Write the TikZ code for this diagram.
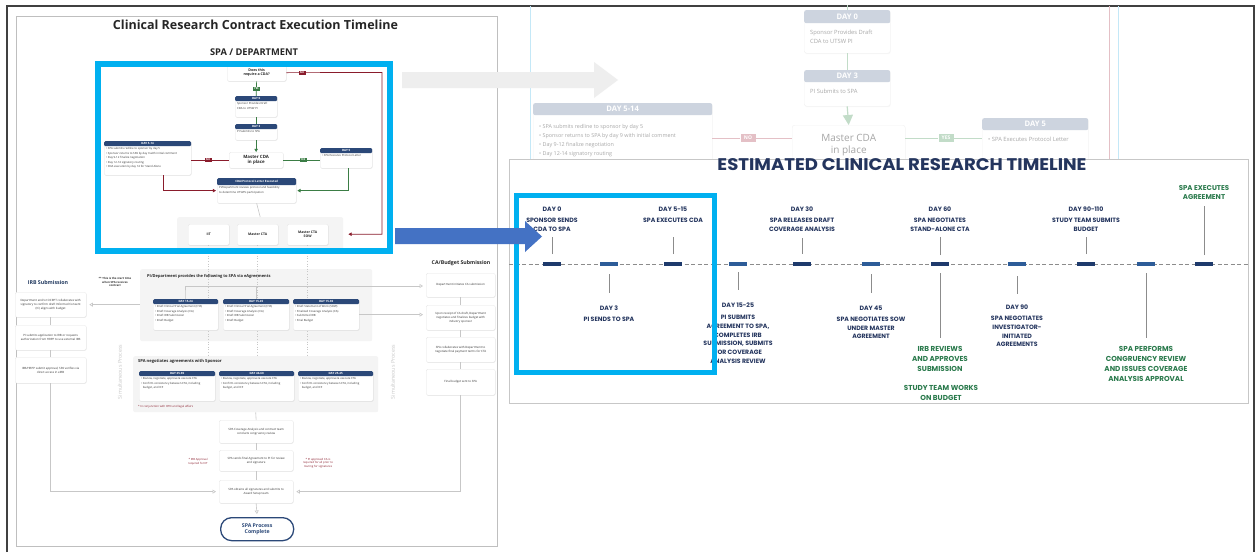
\documentclass[tikz,border=0pt]{standalone}
\usepackage{fontspec}
\usepackage{graphicx}
\setmainfont{Open Sans}
\newfontfamily\osans{Open Sans}
\newfontfamily\popp{Poppins}
\usetikzlibrary{arrows.meta,shadows,calc}

\definecolor{navy}{HTML}{2B4878}
\definecolor{tnavy}{HTML}{24355E}
\definecolor{tgreen}{HTML}{2A7A4C}
\definecolor{cyanframe}{HTML}{00B0F0}
\definecolor{barA}{HTML}{1E3A6C}
\definecolor{barB}{HTML}{2D5C98}
\definecolor{darkred}{HTML}{8A1C2C}
\definecolor{flowgreen}{HTML}{3B7D45}
\definecolor{panelgray}{HTML}{F4F4F4}
\definecolor{arrowblue}{HTML}{4472C4}
\definecolor{arrowgray}{HTML}{EEEEEE}
\definecolor{fadehdr}{HTML}{CDD4DF}
\definecolor{fadetxt}{HTML}{A8A8A8}
\definecolor{fadegreen}{HTML}{C2DCC8}
\definecolor{fadered}{HTML}{E4C0C6}
\definecolor{fadeblue}{HTML}{C4E8F7}

% card with a navy header band: name, x, y, width, height, header height, header, body
\newcommand\hcard[8]{%
  \node[card, minimum width=#4pt, minimum height=#5pt, anchor=north west] (#1) at (#2,#3) {};
  \node[hdr, minimum width=#4pt, minimum height=#6pt, anchor=north] (#1h) at (#1.north) {#7};
  \node[ctxt, anchor=north west] (#1t) at ([xshift=2pt,yshift=-#6pt-1.5pt]#1.north west) {#8};
}
% pale card of the enlarged view: name, x, y, width, height, header height, header
\newcommand\fcard[7]{%
  \node[fadecard, minimum width=#4pt, minimum height=#5pt, anchor=north west] (#1) at (#2,#3) {};
  \node[fadehdrbox, minimum width=#4pt, minimum height=#6pt, anchor=north] (#1h) at (#1.north) {#7};
}

\begin{document}
\begin{tikzpicture}[x=1pt, y=-1pt,
  card/.style={draw=black!10, line width=0.3pt, fill=white, rounded corners=1.5pt, inner sep=0pt,
    drop shadow={opacity=0.15, shadow xshift=0.4pt, shadow yshift=-0.7pt}},
  hdr/.style={fill=navy, rounded corners=1.2pt, inner sep=0pt, text=white,
    font=\osans\bfseries\fontsize{2.9}{3.2}\selectfont},
  ctxt/.style={inner sep=0pt, align=left, text=black!80, font=\osans\fontsize{2.8}{4.4}\selectfont},
  pcard/.style={card, anchor=north west, align=center, text=black!80, font=\osans\fontsize{2.9}{4.1}\selectfont},
  boldcard/.style={card, anchor=north west, align=center, text=black!85, font=\osans\bfseries\fontsize{3.4}{4.2}\selectfont},
  tagred/.style={fill=darkred, text=white, inner sep=0.5pt, minimum width=7pt, minimum height=4pt,
    font=\osans\bfseries\fontsize{2.6}{3}\selectfont},
  taggreen/.style={tagred, fill=flowgreen},
  redln/.style={draw=darkred, line width=0.7pt},
  grnln/.style={draw=flowgreen, line width=0.7pt},
  headtip/.style={-{Triangle[length=3.2pt,width=3.4pt]}},
  grayln/.style={draw=black!22, line width=0.6pt},
  grayarr/.style={grayln, -{Triangle[open, length=3.5pt, width=4pt]}, shorten >=3pt},
  dotln/.style={draw=black!22, line width=0.6pt, dotted},
  panel/.style={fill=panelgray, inner sep=0pt, anchor=north west, rounded corners=2pt},
  rednote/.style={inner sep=0pt, align=center, text=darkred, font=\osans\fontsize{2.8}{3.6}\selectfont},
  simul/.style={rotate=90, text=black!22, font=\osans\fontsize{5.3}{6}\selectfont, inner sep=0pt},
  fadecard/.style={draw=black!5, fill=white, rounded corners=2.5pt, inner sep=0pt,
    drop shadow={opacity=0.06, shadow xshift=0.5pt, shadow yshift=-1pt}},
  fadehdrbox/.style={fill=fadehdr, rounded corners=2pt, inner sep=0pt, text=white,
    font=\osans\bfseries\fontsize{7.6}{8}\selectfont},
  fadetext/.style={inner sep=0pt, align=left, text=fadetxt, font=\osans\fontsize{5.8}{9.3}\selectfont},
  fadetag/.style={inner sep=1pt, minimum width=15pt, minimum height=8pt, text=white,
    font=\osans\bfseries\fontsize{5}{5}\selectfont},
  bar/.style={minimum width=18pt, minimum height=3.6pt, inner sep=0pt},
  tlab/.style={inner sep=0pt, align=center, text=tnavy, font=\popp\bfseries\fontsize{6.2}{8.8}\selectfont},
  glab/.style={inner sep=0pt, align=center, text=tgreen, font=\popp\bfseries\fontsize{7.2}{10}\selectfont},
  tlline/.style={draw=black!45, line width=0.8pt},
]
\useasboundingbox (0,0) rectangle (1257,552);
\fill[white] (0,0) rectangle (1257,552);

% outer frame
\draw[black!75, line width=1.3pt] (7,552) -- (7,6) -- (1254,6) -- (1254,552);

% ---------- pale enlarged view of the CDA flow ----------
\draw[fadeblue, line width=0.8pt] (530,6) -- (530,159);
\draw[fadeblue, line width=0.8pt] (1118,6) -- (1118,159);
\draw[fadered, line width=1pt] (1109,6) -- (1109,159);
\fcard{fd0}{804}{10}{86}{43}{13}{DAY 0}
\node[fadetext, anchor=north west] (fd0t) at (810,30) {Sponsor Provides Draft\\CDA to UTSW PI};
\fcard{fd3}{804}{70}{86}{36}{12}{DAY 3}
\node[fadetext, anchor=north west] (fd3t) at (810,89) {PI Submits to SPA};
\node[fadecard, minimum width=113pt, minimum height=40pt, anchor=north west, align=center,
  text=black!35, font=\osans\fontsize{10}{12}\selectfont] (fmc) at (792,125) {Master CDA\\in place};
\draw[fadegreen, line width=1.2pt] (fd0.north) -- ++(0,-5);
\draw[fadegreen, line width=1.2pt] (fd0.south) -- (fd3.north);
\draw[fadegreen, line width=1.2pt, -{Triangle[length=10pt,width=10pt]}] (fd3.south) -- (fmc.north);
\fcard{fd514}{533}{103}{179}{60}{12}{DAY 5-14}
\node[fadetext, anchor=north west, font=\osans\fontsize{5.4}{9.2}\selectfont] (fd514t) at (539,124)
  {• SPA submits redline to sponsor by day 5\\• Sponsor returns to SPA by day 9 with initial comment\\• Day 9-12 finalize negotiation\\• Day 12-14 signatory routing};
\fcard{fd5}{982}{118}{106}{50}{12}{DAY 5}
\node[fadetext, anchor=north west] (fd5t) at (988,137) {• SPA Executes Protocol Letter};
\node[fadetag, fill=fadered] (fno) at (748,138) {NO};
\node[fadetag, fill=fadegreen] (fyes) at (946,138) {YES};
\draw[fadered, line width=1pt] (fd514.east |- fno) -- (fno.west);
\draw[fadered, line width=1pt] (fno.east) -- (fmc.west |- fno);
\draw[fadegreen, line width=1pt] (fmc.east |- fyes) -- (fyes.west);
\draw[fadegreen, line width=1pt] (fyes.east) -- (fd5.west |- fyes);

% ---------- contract execution flowchart ----------
\draw[black!25, line width=0.8pt, fill=white] (16,16) rectangle (497,546);
\node[inner sep=0, text=black!85, font=\osans\bfseries] (ttl) at (255.5,25)
  {\resizebox{285pt}{!}{Clinical Research Contract Execution Timeline}};
\node[inner sep=0, text=black!85, font=\osans\bfseries] (spad) at (254,52)
  {\resizebox{88pt}{!}{SPA / DEPARTMENT}};

\node[boldcard, minimum width=59pt, minimum height=17pt, font=\osans\bfseries\fontsize{3.6}{4.6}\selectfont] (q) at (227,64) {Does this\\require a CDA?};
\hcard{d0}{235}{96}{42}{21}{5}{DAY 0}{Sponsor Provides Draft\\CDA to UTSW PI}
\hcard{d3}{235}{124}{42}{16}{5}{DAY 3}{PI Submits to SPA}
\node[boldcard, minimum width=54pt, minimum height=16pt, font=\osans\bfseries\fontsize{4.4}{5.2}\selectfont] (mc) at (229,152) {Master CDA\\in place};
\hcard{d514}{104}{141}{87}{34}{5}{DAY 5-14}{• SPA submits redline to sponsor by day 5\\• Sponsor returns to SPA by day 9 with initial comment\\• Day 9-12 finalize negotiation\\• Day 12-14 signatory routing\\• CDA execution by day 14 for Stand Alone}
\hcard{d5}{320}{148}{52}{20}{5}{DAY 5}{• SPA Executes Protocol Letter}
\hcard{cda}{217}{178}{79}{25}{7}{CDA/Protocol Letter Executed}{PI/Department reviews protocol and feasibility\\to determine UTSW's participation}
\node[panel, minimum width=166pt, minimum height=34pt] (p3) at (177,217) {};
\node[boldcard, minimum width=41pt, minimum height=21pt] (iit) at (188,224) {IIT};
\node[boldcard, minimum width=41pt, minimum height=21pt] (mcta) at (237,224) {Master CTA};
\node[boldcard, minimum width=41pt, minimum height=21pt] (msow) at (287,224) {Master CTA\\SOW};

\coordinate (nr) at (382,72.5);
\draw[redln, headtip, shorten >=5pt] (q.east) -- (nr) |- (p3.east);
\node[tagred] (qno) at (302,72.5) {NO};
\draw[grnln] (q.south) -- (d0.north);
\node[taggreen] (qyes) at ($(q.south)!0.5!(d0.north)$) {YES};
\draw[grnln] (d0.south) -- (d3.north);
\draw[grnln, headtip] (d3.south) -- (mc.north);
\draw[redln] (d514.east |- mc.west) -- (mc.west);
\node[tagred] (mno) at (208,160) {NO};
\draw[grnln] (mc.east) -- (d5.west |- mc.east);
\node[taggreen] (myes) at (303,160) {YES};
\draw[redln, headtip, shorten >=1pt] ([xshift=15.5pt]d514.south) |- (cda.west);
\draw[grnln, headtip, shorten >=1pt] ([xshift=2pt]d5.south) |- (cda.east);
\draw[grayln] (cda.south) -- (p3.north);

% eAgreements and negotiation panels
\node[panel, minimum width=232pt, minimum height=72pt] (pip) at (140,269) {};
\node[panel, minimum width=245pt, minimum height=56pt] (pneg) at (133,356) {};
\draw[dotln] (iit.south) -- (iit.south |- pneg.north);
\draw[dotln] (mcta.south) -- (mcta.south |- pneg.north);
\draw[dotln] (msow.south) -- (msow.south |- pneg.north);
\node[anchor=west, inner sep=0, text=black!85, font=\osans\bfseries\fontsize{4}{5}\selectfont] (pit) at (147,276) {PI/Department provides the following to SPA via eAgreements};
\hcard{c1}{153}{299}{65}{31}{5}{DAY 15-24}{• Draft Clinical Trial Agreement (CTA)\\• Draft Coverage Analysis (CA)\\• Draft IRB Submission\\• Draft Budget}
\hcard{c2}{223}{299}{66}{31}{5}{DAY 15-45}{• Draft Clinical Trial Agreement (CTA)\\• Draft Coverage Analysis (CA)\\• Draft IRB Submission\\• Draft Budget}
\hcard{c3}{293}{299}{66}{31}{5}{DAY 15-30}{• Draft Statement of Work (SOW)\\• Finalized Coverage Analysis (CA)\\• Submitted IRB\\• Final Budget}
\node[anchor=west, inner sep=0, text=black!85, font=\osans\bfseries\fontsize{4.1}{5}\selectfont] (pnt) at (138,361) {SPA negotiates agreements with Sponsor};
\hcard{n1}{139}{371}{76}{30}{5}{DAY 25-90}{• Review, negotiate, approve \& execute CTA\\• Confirm consistency between CTA, including\\\phantom{• }budget, and ICF}
\hcard{n2}{219}{371}{75}{30}{5}{DAY 46-60}{• Review, negotiate, approve \& execute CTA\\• Confirm consistency between CTA, including\\\phantom{• }budget, and ICF}
\hcard{n3}{298}{371}{75}{30}{5}{DAY 25-45}{• Review, negotiate, approve \& execute CTA\\• Confirm consistency between CTA, including\\\phantom{• }budget, and ICF}
\node[rednote, anchor=west] (otd) at (138,407) {* In conjunction with OTD and legal affairs};
\node[inner sep=0, align=center, text=black!80, font=\osans\bfseries\fontsize{2.8}{3.4}\selectfont] (startnote) at (115,282) {** This is the start time\\when SPA receives\\contract};
\node[simul] (sim1) at (120,372) {Simultaneous Process};
\node[simul] (sim2) at (393,372) {Simultaneous Process};

% IRB column
\node[inner sep=0, text=navy!80!black, font=\osans\bfseries\fontsize{5.3}{6}\selectfont] (irbt) at (48,283) {IRB Submission};
\node[pcard, minimum width=71pt, minimum height=25pt] (irb1) at (15,292) {Department and/or OCRPT collaborates with\\signatory to confirm draft Informed Consent\\(IC) aligns with budget};
\node[pcard, minimum width=71pt, minimum height=25pt] (irb2) at (15,325) {PI submits application to IRB or requests\\authorization from HRPP to use external IRB};
\node[pcard, minimum width=71pt, minimum height=26pt] (irb3) at (15,357) {IRB/HRPP submit approval; SPA verifies via\\direct access in eIRB};

% CA / budget column
\node[inner sep=0, text=black!85, font=\osans\bfseries\fontsize{5.2}{6}\selectfont] (cat) at (461,263) {CA/Budget Submission};
\node[pcard, minimum width=69pt, minimum height=24pt] (ca1) at (426,273) {Department initiates CA submission};
\node[pcard, minimum width=69pt, minimum height=25pt] (ca2) at (426,305) {Upon receipt of CA draft, Department\\negotiates and finalizes budget with\\industry sponsor};
\node[pcard, minimum width=69pt, minimum height=25pt] (ca3) at (426,337) {SPA collaborates with Department to\\negotiate final payment terms for CTA};
\node[pcard, minimum width=69pt, minimum height=26pt] (ca4) at (426,369) {Final budget sent to SPA};

% closing steps
\node[pcard, minimum width=74pt, minimum height=23pt] (fa) at (219,420) {SPA Coverage Analysis and contract team\\conducts congruency review};
\node[pcard, minimum width=74pt, minimum height=21pt] (fb) at (219,450) {SPA sends final Agreement to PI for review\\and signature};
\node[pcard, minimum width=74pt, minimum height=23pt] (fc) at (219,480) {SPA obtains all signatures and submits to\\Award Setup team};
\node[draw=navy, line width=1.3pt, rounded corners=11pt, minimum width=73pt, minimum height=23pt,
  anchor=north west, fill=white, inner sep=0, align=center, text=navy,
  font=\osans\bfseries\fontsize{5.2}{6}\selectfont] (fend) at (220,517) {SPA Process\\Complete};
\node[rednote] (irbnote) at (198,462) {* IRB Approval\\required for IIT};
\node[rednote] (canote) at (318,463) {* PI approved CA is\\required for all prior to\\routing for signatures};

\coordinate (pl) at (185.5,286);
\draw[grayarr] (pl) -- (pl -| ca1.west);
\draw[grayln] (pl) -- (c1.north);
\draw[grayln] (c2.north |- pl) -- (c2.north);
\draw[grayarr] (pip.west |- irb1.east) -- (irb1.east);
\draw[grayarr] (c3.east) -- (c3.east -| ca2.west);
\draw[grayln] (irb1.south) -- (irb2.north);
\draw[grayln] (irb2.south) -- (irb3.north);
\draw[grayln] (ca1.south) -- (ca2.north);
\draw[grayln] (ca2.south) -- (ca3.north);
\draw[grayln] (ca3.south) -- (ca4.north);
\draw[grayarr] (irb3.south) |- (fc.west);
\draw[grayarr] (ca4.south) |- (fc.east);
\draw[grayln] (pneg.south) -- (fa.north);
\draw[grayln] (fa.south) -- (fb.north);
\draw[grayln] (fb.south) -- (fc.north);
\draw[grayarr] (fc.south) -- (fend.north);

% highlight of the CDA part
\draw[cyanframe, line width=6pt] (98,64) rectangle (390,251);

% ---------- estimated timeline ----------
\node[draw=black!22, line width=1.2pt, fill=white, minimum width=739pt, minimum height=244pt,
  anchor=north west, inner sep=0] (tlp) at (509,159) {};
\node[inner sep=0, text=tnavy, font=\popp\bfseries] (tlt) at (902,165)
  {\resizebox{369pt}{12pt}{ESTIMATED CLINICAL RESEARCH TIMELINE}};
\draw[black!45, line width=1pt, dash pattern=on 4pt off 2.5pt] (tlp.west |- 0,264) -- (tlp.east |- 0,264);

\node[bar, fill=barA] (m1) at (552,264) {};
\node[bar, fill=barB] (m2) at (609,264) {};
\node[bar, fill=barA] (m3) at (673,264) {};
\node[bar, fill=barB] (m4) at (738,264) {};
\node[bar, fill=barA] (m5) at (802,264) {};
\node[bar, fill=barB] (m6) at (871,264) {};
\node[bar, fill=barA] (m7) at (940,264) {};
\node[bar, fill=barB] (m8) at (1017,264) {};
\node[bar, fill=barA] (m9) at (1086,264) {};
\node[bar, fill=barB] (m10) at (1146,264) {};
\node[bar, fill=barA] (m11) at (1204,264) {};

\node[tlab, anchor=north] (t1) at (552,206.8) {DAY 0\\[2pt]SPONSOR SENDS\\CDA TO SPA};
\node[tlab, anchor=north] (t2) at (609,305.8) {DAY 3\\[2pt]PI SENDS TO SPA};
\node[tlab, anchor=north] (t3) at (673,206.8) {DAY 5-15\\[2pt]SPA EXECUTES CDA};
\node[tlab, anchor=north] (t4) at (738,302.8) {DAY 15-25\\[3pt]PI SUBMITS\\AGREEMENT TO SPA,\\COMPLETES IRB\\SUBMISSION, SUBMITS\\FOR COVERAGE\\ANALYSIS REVIEW};
\node[tlab, anchor=north] (t5) at (802,206.8) {DAY 30\\[2pt]SPA RELEASES DRAFT\\COVERAGE ANALYSIS};
\node[tlab, anchor=north] (t6) at (871,305.8) {DAY 45\\[2pt]SPA NEGOTIATES SOW\\UNDER MASTER\\AGREEMENT};
\node[tlab, anchor=north] (t7) at (940,206.8) {DAY 60\\[2pt]SPA NEGOTIATES\\STAND-ALONE CTA};
\node[glab, anchor=north] (g7) at (940,346.5) {IRB REVIEWS\\AND APPROVES\\SUBMISSION};
\node[glab, anchor=north] (g7b) at (941,385.5) {STUDY TEAM WORKS\\ON BUDGET};
\node[tlab, anchor=north] (t8) at (1017,304.8) {DAY 90\\[2pt]SPA NEGOTIATES\\INVESTIGATOR-\\INITIATED\\AGREEMENTS};
\node[tlab, anchor=north] (t9) at (1086,206.8) {DAY 90-110\\[2pt]STUDY TEAM SUBMITS\\BUDGET};
\node[glab, anchor=north] (g10) at (1146,346.5) {SPA PERFORMS\\CONGRUENCY REVIEW\\AND ISSUES COVERAGE\\ANALYSIS APPROVAL};
\node[glab, anchor=north, font=\popp\bfseries\fontsize{7}{9.3}\selectfont] (g11) at (1204,185.5) {SPA EXECUTES\\AGREEMENT};

\draw[tlline, shorten <=8pt, shorten >=5.3pt] (m1.north) -- (t1.south);
\draw[tlline, shorten <=8pt, shorten >=12.8pt] (m2.south) -- (t2.north);
\draw[tlline, shorten <=8pt, shorten >=14pt] (m3.north) -- (t3.south);
\draw[tlline, shorten <=6.2pt, shorten >=12.8pt] (m4.south) -- (t4.north);
\draw[tlline, shorten <=8.2pt, shorten >=6.3pt] (m5.north) -- (t5.south);
\draw[tlline, shorten <=8pt, shorten >=12.8pt] (m6.south) -- (t6.north);
\draw[tlline, shorten <=7pt, shorten >=5.3pt] (m7.north) -- (t7.south);
\draw[tlline, shorten <=7.2pt, shorten >=8.5pt] (m7.south) -- (g7.north);
\draw[tlline, shorten <=10pt, shorten >=10.8pt] (m8.south) -- (t8.north);
\draw[tlline, shorten <=8pt, shorten >=5.3pt] (m9.north) -- (t9.south);
\draw[tlline, shorten <=7.2pt, shorten >=8.5pt] (m10.south) -- (g10.north);
\draw[tlline, shorten <=7pt, shorten >=6pt] (m11.north) -- (g11.south);

% ---------- pointers between the views ----------
\fill[arrowgray] (402,72) -- (594,72) -- (594,62) -- (618,80) -- (594,98) -- (594,88) -- (402,88) -- cycle;
\draw[cyanframe, line width=5pt] (516.5,195.5) rectangle (714,372.5);
\fill[arrowblue] (395,228) -- (525,228) -- (525,221) -- (542,236.5) -- (525,252) -- (525,244) -- (395,244) -- cycle;
\end{tikzpicture}
\end{document}
